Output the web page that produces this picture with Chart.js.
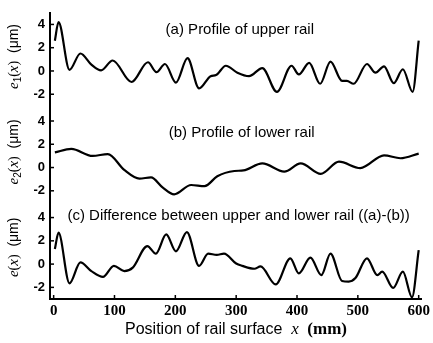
<!DOCTYPE html>
<html>
<head>
<meta charset="utf-8">
<script src="https://cdn.jsdelivr.net/npm/chart.js@4.4.0/dist/chart.umd.min.js"></script>
<style>
  html, body { margin: 0; padding: 0; background: #fff; }
  #wrap { width: 433px; height: 343px; position: relative; }
</style>
</head>
<body>
<div id="wrap"><canvas id="railChart"></canvas></div>
<script>
  // values (x in mm, e in µm)
  const upperX = [2, 8, 26, 44, 62, 78, 97, 128, 155, 169, 183, 201, 220, 239, 258, 267, 283, 302, 321, 343, 367, 391, 403, 420, 438, 455, 474, 482, 493, 515, 529, 543, 559, 574, 590, 600];
  const upperE = [2.6, 4.2, 0.1, 1.5, 0.55, 0.05, 0.9, -0.95, 0.75, -0.1, 0.6, -1.0, 1.1, -1.5, -0.45, -0.35, 0.45, -0.15, -0.45, 0.25, -1.8, 0.45, -0.3, 0.7, -1.1, 0.8, -0.85, -0.85, -1.1, 0.6, -0.15, 0.4, -1.05, 0.15, -1.8, 2.6];

  const lowerX = [2, 29, 64, 89, 116, 141, 160, 179, 198, 226, 248, 269, 297, 312, 343, 379, 406, 439, 469, 504, 543, 570, 600];
  const lowerE = [1.3, 1.6, 1.0, 1.15, -0.2, -0.95, -0.85, -1.7, -2.3, -1.5, -1.6, -0.75, -0.3, -0.25, 0.35, -0.35, 0.35, -0.55, 0.5, -0.05, 1.05, 0.8, 1.2];

  const diffX = [2, 8, 26, 44, 62, 81, 99, 116, 130, 154, 168, 185, 201, 219, 239, 254, 268, 280, 300, 310, 330, 340, 365, 389, 403, 422, 440, 455, 474, 485, 496, 515, 532, 540, 558, 574, 589, 600];
  const diffE = [1.3, 2.7, -1.65, 0.15, -0.6, -1.1, -0.15, -0.6, -0.3, 1.55, 0.9, 2.55, 1.1, 2.75, -0.15, 0.9, 0.8, 0.9, 0.05, -0.15, -0.4, -0.2, -1.75, 0.5, -0.8, 0.55, -0.95, 0.9, -1.45, -1.5, -1.2, 0.5, -0.95, -0.65, -2.05, -0.65, -2.85, 1.2];

  const xTicks = [0, 100, 200, 300, 400, 500, 600];
  const yTicks = [-2, 0, 2, 4];

  const panelNotes = [
    { axis: 'yA', x: 306, y: 3.5, text: '(a) Profile of upper rail' },
    { axis: 'yB', x: 309, y: 3.0, text: '(b) Profile of lower rail' },
    { axis: 'yC', x: 304, y: 4.15, text: '(c) Difference between upper and lower rail ((a)-(b))' }
  ];

  const serif = '"Liberation Serif", "Times New Roman", serif';
  const sans = '"Liberation Sans", Arial, sans-serif';

  function pts(xs, ys) {
    return xs.map((x, i) => ({ x: x, y: ys[i] }));
  }

  function line(data, axis) {
    return {
      data: data,
      yAxisID: axis,
      xAxisID: 'x',
      borderColor: '#000',
      borderWidth: 2.2,
      pointRadius: 0,
      cubicInterpolationMode: 'monotone',
      fill: false
    };
  }

  // rich text helper (italic e / x, subscripts)
  function drawParts(ctx, parts, cx, cy, rotate) {
    ctx.save();
    ctx.translate(cx, cy);
    if (rotate) ctx.rotate(-Math.PI / 2);
    ctx.textBaseline = 'alphabetic';
    ctx.fillStyle = '#000';
    let total = 0;
    parts.forEach(p => { ctx.font = p.font; p.w = ctx.measureText(p.t).width; total += p.w; });
    let x = -total / 2;
    parts.forEach(p => { ctx.font = p.font; ctx.fillText(p.t, x, 5 + (p.dy || 0)); x += p.w; });
    ctx.restore();
  }

  function yTitle(sub) {
    const parts = [{ t: 'e', font: 'italic 15px ' + serif }];
    if (sub) parts.push({ t: sub, font: '10px ' + sans, dy: 3 });
    parts.push({ t: '(', font: '14px ' + serif });
    parts.push({ t: 'x', font: 'italic 15px ' + serif });
    parts.push({ t: ')', font: '14px ' + serif });
    parts.push({ t: '  (μm)', font: '14px ' + sans });
    return parts;
  }

  const decor = {
    id: 'decor',
    afterDraw(chart) {
      const ctx = chart.ctx;
      const area = chart.chartArea;
      const sx = chart.scales.x;

      // inward tick marks
      ctx.save();
      ctx.strokeStyle = '#000';
      ctx.lineWidth = 1.5;
      ['yA', 'yB', 'yC'].forEach(id => {
        const s = chart.scales[id];
        s.ticks.forEach(t => {
          const py = s.getPixelForValue(t.value);
          ctx.beginPath();
          ctx.moveTo(area.left, py);
          ctx.lineTo(area.left + 4, py);
          ctx.stroke();
        });
      });
      sx.ticks.forEach(t => {
        const px = sx.getPixelForValue(t.value);
        ctx.beginPath();
        ctx.moveTo(px, area.bottom);
        ctx.lineTo(px, area.bottom - 4);
        ctx.stroke();
      });
      ctx.restore();

      // panel captions
      ctx.save();
      ctx.fillStyle = '#000';
      ctx.font = '15px ' + sans;
      ctx.textAlign = 'center';
      ctx.textBaseline = 'middle';
      panelNotes.forEach(n => {
        ctx.fillText(n.text, sx.getPixelForValue(n.x), chart.scales[n.axis].getPixelForValue(n.y));
      });
      ctx.restore();

      // axis titles
      const titles = { yA: yTitle('1'), yB: yTitle('2'), yC: yTitle('') };
      Object.keys(titles).forEach(id => {
        const s = chart.scales[id];
        drawParts(ctx, titles[id], 13, (s.top + s.bottom) / 2 - 4, true);
      });
      drawParts(ctx, [
        { t: 'Position of rail surface  ', font: '16px ' + sans },
        { t: 'x', font: 'italic 17px ' + serif },
        { t: '  (mm)', font: 'bold 17px ' + serif }
      ], 236, 329, false);
    }
  };

  function yScale(weight, min, max) {
    return {
      type: 'linear',
      position: 'left',
      stack: 'panels',
      stackWeight: 1,
      weight: weight,
      min: min,
      max: max,
      afterBuildTicks: axis => { axis.ticks = yTicks.map(v => ({ value: v })); },
      afterFit: axis => { axis.width = 50; },
      grid: { drawOnChartArea: false, drawTicks: false },
      border: { display: true, color: '#000', width: 2 },
      ticks: {
        color: '#000',
        padding: 5,
        autoSkip: false,
        font: { family: sans, size: 13, weight: 'bold' }
      }
    };
  }

  new Chart(document.getElementById('railChart'), {
    type: 'line',
    data: {
      datasets: [
        line(pts(upperX, upperE), 'yA'),
        line(pts(lowerX, lowerE), 'yB'),
        line(pts(diffX, diffE), 'yC')
      ]
    },
    options: {
      responsive: true,
      maintainAspectRatio: false,
      animation: false,
      layout: { padding: { top: 9, right: 9, left: 0, bottom: 0 } },
      plugins: {
        legend: { display: false },
        tooltip: { enabled: false }
      },
      scales: {
        x: {
          type: 'linear',
          position: 'bottom',
          min: -6,
          max: 604,
          afterBuildTicks: axis => { axis.ticks = xTicks.map(v => ({ value: v })); },
          afterFit: axis => { axis.height = 44; },
          grid: { drawOnChartArea: false, drawTicks: false },
          border: { display: true, color: '#000', width: 2 },
          ticks: {
            color: '#000',
            padding: 3,
            autoSkip: false,
            maxRotation: 0,
            font: { family: serif, size: 15, weight: 'bold' }
          }
        },
        yA: yScale(3, -3.2, 5.0),
        yB: yScale(2, -3.1, 5.1),
        yC: yScale(1, -3.0, 5.2)
      }
    },
    plugins: [decor]
  });
</script>
</body>
</html>
